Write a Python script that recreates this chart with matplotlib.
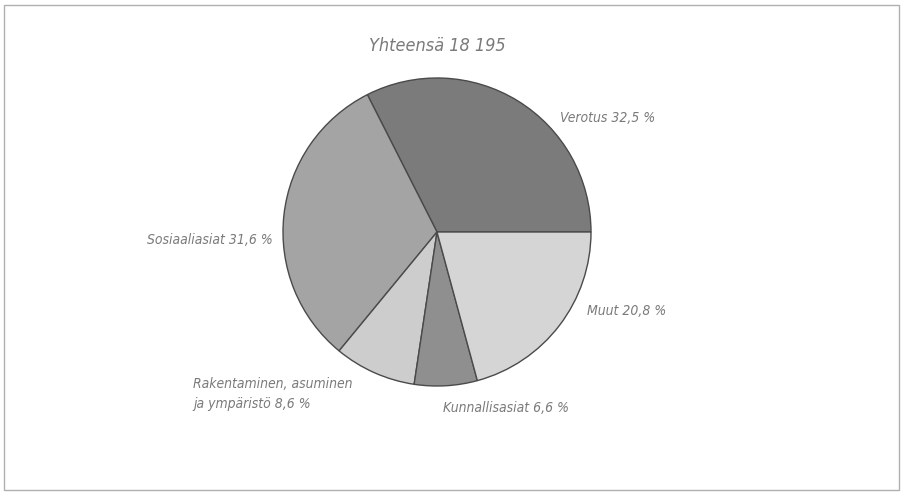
import matplotlib
matplotlib.use("Agg")
import matplotlib.pyplot as plt
from matplotlib.patches import Rectangle

title = "Yhteensä 18 195"
categories = ["Verotus", "Sosiaaliasiat", "Rakentaminen, asuminen\nja ympäristö", "Kunnallisasiat", "Muut"]
shares = [32.5, 31.6, 8.6, 6.6, 20.8]
share_labels = ["32,5 %", "31,6 %", "8,6 %", "6,6 %", "20,8 %"]
colors = ["#7b7b7b", "#a4a4a4", "#cdcdcd", "#8f8f8f", "#d5d5d5"]

plt.rcParams['font.family'] = ['DejaVu Sans']
W, H = 901, 493
fig = plt.figure(figsize=(W / 100, H / 100), dpi=100)
ax = fig.add_axes([0, 0, 1, 1])

cx, cy, r = 437, H - 232, 154
ax.pie(shares, colors=colors, startangle=0, counterclock=True,
       center=(cx, cy), radius=r, frame=False,
       wedgeprops=dict(edgecolor="#4a4a4a", linewidth=1.0))
ax.set_xlim(0, W)
ax.set_ylim(0, H)
ax.set_aspect('equal')
ax.axis('off')

fig.patches.append(Rectangle((4 / W, 3 / H), (W - 6) / W, (H - 8) / H, transform=fig.transFigure,
                             fill=False, edgecolor="#b0b0b0", linewidth=1.0))

tc = "#7a7a7a"
fs = 10
kw = dict(color=tc, fontsize=fs, style='italic', fontstretch='condensed')
ax.text(cx, H - 46, title, ha='center', va='center', fontsize=13, color=tc, style='italic',
        fontstretch='condensed')
ax.text(560, H - 118, f"{categories[0]} {share_labels[0]}", ha='left', va='center', **kw)
ax.text(273, H - 240, f"{categories[1]} {share_labels[1]}", ha='right', va='center', **kw)
ax.text(193, H - 394, f"{categories[2]} {share_labels[2]}", ha='left', va='center', linespacing=1.55, **kw)
ax.text(443, H - 408, f"{categories[3]} {share_labels[3]}", ha='left', va='center', **kw)
ax.text(587, H - 311, f"{categories[4]} {share_labels[4]}", ha='left', va='center', **kw)

fig.savefig("out.png", dpi=100)
